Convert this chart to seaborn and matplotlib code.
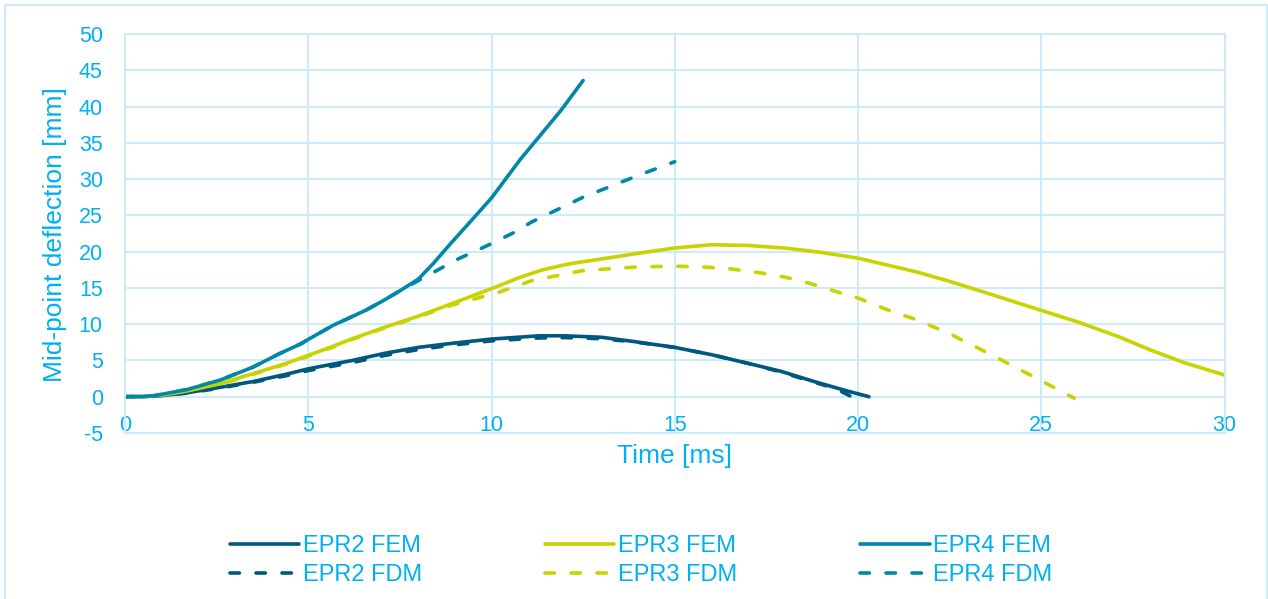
import matplotlib
matplotlib.use("Agg")
import matplotlib.pyplot as plt
import seaborn as sns
from matplotlib.lines import Line2D
from matplotlib.patches import Rectangle

# ---- mid-point deflection [mm] versus time [ms] ----
epr2_fem_t = [0, 0.5, 1.0, 1.7, 2.6, 3.5, 4.4, 5.0, 6.2, 7.1, 8.0, 8.9, 10.0, 11.3, 12.0,
              13.0, 13.9, 15.0, 16.0, 17.0, 17.9, 18.8, 19.7, 20.3]
epr2_fem_y = [0, 0.02, 0.15, 0.55, 1.3, 2.1, 3.1, 3.85, 5.0, 6.0, 6.8, 7.35, 7.95, 8.4, 8.4,
              8.2, 7.6, 6.8, 5.8, 4.6, 3.5, 2.1, 0.8, 0.0]

epr2_fdm_t = [0, 0.5, 1.0, 1.7, 2.6, 3.5, 4.4, 5.0, 6.2, 7.1, 8.0, 8.9, 10.0, 11.3, 12.0,
              13.0, 13.9, 15.0, 16.0, 17.0, 17.9, 18.8, 19.4, 19.9]
epr2_fdm_y = [0, 0.02, 0.15, 0.5, 1.2, 2.0, 2.9, 3.6, 4.7, 5.7, 6.5, 7.1, 7.7, 8.1, 8.15,
              8.0, 7.55, 6.8, 5.8, 4.6, 3.4, 2.0, 1.1, -0.2]

epr3_fem_t = [0, 0.5, 1.0, 1.7, 2.6, 3.5, 4.4, 5.0, 5.7, 6.2, 7.1, 8.0, 8.9, 10.0, 10.8,
              11.4, 12.1, 13.4, 14.3, 15.0, 16.0, 17.0, 18.0, 19.0, 20.0, 21.6, 22.5, 23.7,
              25.0, 26.0, 27.1, 28.0, 28.9, 30.0]
epr3_fem_y = [0, 0.02, 0.2, 0.8, 1.8, 3.2, 4.6, 5.7, 7.0, 8.0, 9.6, 11.1, 12.8, 14.9, 16.5,
              17.5, 18.3, 19.3, 20.0, 20.5, 20.95, 20.85, 20.5, 19.9, 19.1, 17.2, 15.9, 14.0,
              11.9, 10.3, 8.3, 6.4, 4.7, 3.0]

epr3_fdm_t = [0, 0.5, 1.0, 1.7, 2.6, 3.5, 4.4, 5.0, 5.7, 6.2, 7.1, 8.0, 8.9, 10.2, 11.1,
              12.5, 14.0, 15.0, 15.7, 16.4, 17.3, 18.0, 18.7, 19.4, 20.0, 20.8, 21.6, 22.45,
              23.2, 23.9, 24.7, 25.3, 25.9]
epr3_fdm_y = [0, 0.02, 0.2, 0.75, 1.7, 3.1, 4.5, 5.6, 6.9, 7.9, 9.5, 11.0, 12.6, 14.4, 16.0,
              17.4, 17.9, 18.0, 17.9, 17.7, 17.1, 16.5, 15.6, 14.5, 13.6, 12.0, 10.6, 8.8,
              6.9, 5.1, 3.0, 1.4, -0.2]

epr4_fem_t = [0, 0.5, 0.8, 1.7, 2.6, 3.5, 4.2, 4.8, 5.0, 5.7, 6.05, 6.6, 7.1, 7.5, 8.0,
              8.4, 8.9, 9.4, 10.0, 10.8, 11.9, 12.5]
epr4_fem_y = [0, 0.03, 0.14, 1.0, 2.3, 4.1, 5.9, 7.3, 7.9, 9.9, 10.7, 12.0, 13.4, 14.6, 16.2,
              18.3, 21.2, 24.0, 27.4, 32.8, 39.5, 43.6]

epr4_fdm_t = [0, 0.5, 0.8, 1.7, 2.6, 3.5, 4.2, 4.8, 5.0, 5.7, 6.05, 6.6, 7.1, 7.5, 8.0,
              8.4, 9.05, 10.0, 10.6, 11.1, 12.5, 14.0, 15.0]
epr4_fdm_y = [0, 0.03, 0.14, 1.0, 2.3, 4.1, 5.9, 7.3, 7.9, 9.9, 10.7, 12.0, 13.4, 14.6, 16.0,
              17.1, 18.9, 21.1, 22.6, 24.1, 27.5, 30.5, 32.4]

labels = ["EPR2 FEM", "EPR2 FDM", "EPR3 FEM", "EPR3 FDM", "EPR4 FEM", "EPR4 FDM"]
x_ticks = [0, 5, 10, 15, 20, 25, 30]
y_ticks = [-5, 0, 5, 10, 15, 20, 25, 30, 35, 40, 45, 50]

C_EPR2 = "#00587F"
C_EPR3 = "#C8D300"
C_EPR4 = "#0088A9"
TEXT = "#00B0F0"
GRID = "#C8EAFB"
LW = 2.6
DASH = (0, (2.6, 4.6))

series = [
    (epr2_fem_t, epr2_fem_y, C_EPR2, "-"),
    (epr2_fdm_t, epr2_fdm_y, C_EPR2, DASH),
    (epr3_fem_t, epr3_fem_y, C_EPR3, "-"),
    (epr3_fdm_t, epr3_fdm_y, C_EPR3, DASH),
    (epr4_fem_t, epr4_fem_y, C_EPR4, "-"),
    (epr4_fdm_t, epr4_fdm_y, C_EPR4, DASH),
]
# draw order: dashed curves beneath the solid ones
order = [1, 3, 5, 0, 2, 4]

sns.set_theme(style="white")
plt.rcParams["font.family"] = ["Liberation Sans", "DejaVu Sans"]

W, H = 1268, 599
fig = plt.figure(figsize=(W / 100, H / 100), dpi=100)
fig.patch.set_facecolor("white")
ax = fig.add_axes([125 / W, 1 - 433 / H, (1224.5 - 125) / W, (433 - 34) / H])

for i in order:
    t, y, color, ls = series[i]
    sns.lineplot(x=t, y=y, ax=ax, color=color, linewidth=LW, linestyle=ls,
                 estimator=None, sort=False, legend=False,
                 solid_capstyle="round", dash_capstyle="round")

ax.set_xlim(0, 30)
ax.set_ylim(-5, 50)
ax.set_xticks(x_ticks)
ax.set_yticks(y_ticks)
ax.set_xticklabels([str(v) for v in x_ticks])
ax.set_yticklabels([str(v) for v in y_ticks])
ax.grid(True, color=GRID, linewidth=1.3)
ax.set_axisbelow(True)
for s in ax.spines.values():
    s.set_color(GRID)
    s.set_linewidth(1.3)
ax.tick_params(axis="both", length=0, labelsize=15.5, colors=TEXT)
ax.tick_params(axis="x", pad=-13)
ax.tick_params(axis="y", pad=16)
ax.set_xlabel("")
ax.set_ylabel("")

fig.text(674.5 / W, 1 - 456 / H, "Time [ms]", ha="center", va="center",
         fontsize=19, color=TEXT)
fig.text(55 / W, 1 - 235 / H, "Mid-point deflection [mm]", ha="center", va="center",
         rotation=90, fontsize=19, color=TEXT)

handles = []
for t, y, color, ls in series:
    handles.append(Line2D([], [], color=color, linewidth=LW, linestyle=ls,
                          solid_capstyle="round", dash_capstyle="round"))
leg = fig.legend(handles, labels, ncol=3, loc="center",
                 bbox_to_anchor=(641 / W, 1 - 560.5 / H), frameon=False,
                 fontsize=17, handlelength=2.95, handletextpad=0.15,
                 columnspacing=5.2, labelspacing=0.3, labelcolor=TEXT)

# chart-area border
fig.patches.append(Rectangle((5 / W, -0.02), 1262 / W, 1 - 5 / H + 0.02,
                             transform=fig.transFigure, fill=False,
                             edgecolor=GRID, linewidth=1.5))

fig.savefig("out.png", dpi=100)
